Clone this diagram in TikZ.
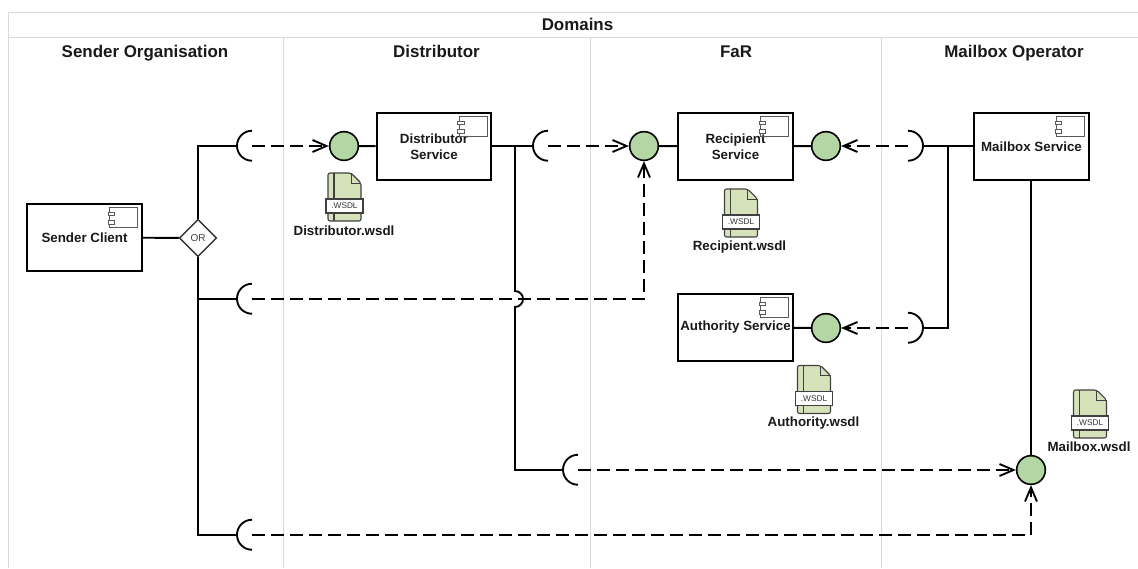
\documentclass[tikz,border=0pt]{standalone}
\usepackage{fontspec}
\setmainfont{Liberation Sans}
\usetikzlibrary{shapes.geometric,arrows.meta}
\definecolor{ifgreen}{HTML}{B4D6A4}
\definecolor{docgreen}{HTML}{D6E2BA}
\definecolor{lanegray}{HTML}{D9D9D9}
\begin{document}
\begin{tikzpicture}[x=0.75pt, y=-0.75pt, >={Straight Barb[length=10.5pt,width=9pt]},
    lane/.style={draw=lanegray, line width=0.9pt},
    heading/.style={anchor=base, text=black!90, font=\bfseries\fontsize{12.7}{14}\selectfont},
    comp/.style={draw, line width=1.5pt, minimum width=86pt, minimum height=50pt, inner sep=0pt, align=center, text=black!90, font=\bfseries\fontsize{10}{12}\selectfont},
    iface/.style={draw, circle, line width=1.2pt, fill=ifgreen, minimum size=21.5pt, inner sep=0pt},
    socket/.style={circle, minimum size=22.5pt, inner sep=0pt},
    orgate/.style={draw=black!80, line width=1pt, diamond, aspect=1, minimum size=28pt, inner sep=0pt, font=\fontsize{7.5}{8}\selectfont, text=black!75},
    wsdl/.style={anchor=base, text=black!90, font=\bfseries\fontsize{10}{10}\selectfont},
    wire/.style={line width=1.4pt},
    dep/.style={line width=1.4pt, dash pattern=on 10pt off 4.25pt, ->},
    compicon/.pic={
        \draw[black!65, line width=0.7pt] (-28,0) rectangle (0,20);
        \draw[black!65, line width=0.7pt, fill=white] (-29.5,5) rectangle (-23,8.5);
        \draw[black!65, line width=0.7pt, fill=white] (-29.5,13.5) rectangle (-23,17);
    },
    docicon/.pic={
        \draw[black!75, line width=0.8pt, fill=docgreen, rounded corners=1.5pt] (-16.5,-24) -- (6.5,-24) -- (16.5,-14) -- (16.5,24) -- (-16.5,24) -- cycle;
        \draw[black!75, line width=0.7pt] (6.5,-24) -- (6.5,-14) -- (16.5,-14);
        \draw[black!75, line width=0.8pt] (-10.5,-24) -- (-10.5,24);
        \draw[black!75, line width=0.8pt, fill=white] (-18.5,2) rectangle (18.5,16);
        \node[font=\fontsize{6.2}{6}\selectfont, text=black!80] at (0,9) {.WSDL};
    }]
    \useasboundingbox (0,0) rectangle (1138,568);

    % swimlanes
    \draw[lane] (1138,12.5) -- (8.5,12.5) -- (8.5,568);
    \draw[lane] (8.5,37.5) -- (1138,37.5);
    \draw[lane] (283.5,37.5) -- (283.5,568);
    \draw[lane] (590.5,37.5) -- (590.5,568);
    \draw[lane] (881.5,37.5) -- (881.5,568);
    \node[heading] (domains) at (577.5,30) {Domains};
    \node[heading] (sender) at (145,57) {Sender Organisation};
    \node[heading] (distributor) at (436.5,57) {Distributor};
    \node[heading] (far) at (736,57) {FaR};
    \node[heading] (mailboxop) at (1014,57) {Mailbox Operator};

    % components
    \node[comp] (client) at (84.5,237.5) {Sender Client};
    \node[comp] (distsvc) at (434,146.5) {Distributor\\Service};
    \node[comp] (recsvc) at (735.5,146.5) {Recipient\\Service};
    \node[comp] (authsvc) at (735.5,327.5) {Authority Service};
    \node[comp] (mailsvc) at (1031.5,146.5) {Mailbox Service};
    \pic at ([xshift=-3.75pt,yshift=-3pt]client.north east) {compicon};
    \pic at ([xshift=-3.75pt,yshift=-3pt]distsvc.north east) {compicon};
    \pic at ([xshift=-3.75pt,yshift=-3pt]recsvc.north east) {compicon};
    \pic at ([xshift=-3.75pt,yshift=-3pt]authsvc.north east) {compicon};
    \pic at ([xshift=-3.75pt,yshift=-3pt]mailsvc.north east) {compicon};

    \node[orgate] (or) at (198,238) {OR};

    % provided interfaces
    \node[iface] (ifdist) at (344,146) {};
    \node[iface] (ifrec) at (644,146) {};
    \node[iface] (ifrecout) at (826,146) {};
    \node[iface] (ifauth) at (826,328) {};
    \node[iface] (ifmail) at (1031,470) {};

    % required interfaces
    \node[socket] (sk1) at (252,146) {};
    \node[socket] (sk2) at (252,299) {};
    \node[socket] (sk3) at (252,535) {};
    \node[socket] (sk4) at (548,146) {};
    \node[socket] (sk5) at (578,470) {};
    \node[socket] (sk6) at (908,146) {};
    \node[socket] (sk7) at (908,328) {};
    \foreach \s in {sk1,sk2,sk3,sk4,sk5}
        \draw[wire] (\s.north) arc[start angle=90, end angle=270, radius=11.25pt];
    \foreach \s in {sk6,sk7}
        \draw[wire] (\s.north) arc[start angle=90, end angle=-90, radius=11.25pt];

    % wires
    \coordinate (orbranch) at (198,299);
    \coordinate (distbranch) at (515,146);
    \coordinate (jumptop) at (515,291);
    \coordinate (jumpbot) at (515,307);
    \coordinate (mailbranch) at (948,146);
    \draw[wire] (client) -- (or);
    \draw[wire] (or.north) |- (sk1.west);
    \draw[wire] (or.south) |- (sk3.west);
    \draw[wire] (orbranch) -- (sk2.west);
    \draw[wire] (ifdist) -- (distsvc);
    \draw[wire] (distsvc.east |- sk4) -- (sk4.west);
    \draw[wire] (distbranch) -- (jumptop) arc[start angle=90, end angle=-90, radius=6pt] -- (jumpbot |- sk5.west) -- (sk5.west);
    \draw[wire] (ifrec) -- (recsvc);
    \draw[wire] (recsvc) -- (ifrecout);
    \draw[wire] (authsvc) -- (ifauth);
    \draw[wire] (mailsvc.west |- sk6) -- (sk6.east);
    \draw[wire] (mailbranch) |- (sk7.east);
    \draw[wire] (ifmail |- mailsvc.south) -- (ifmail);

    % dependencies
    \draw[dep] (sk1.center) -- (ifdist);
    \draw[dep] (sk4.center) -- (ifrec);
    \draw[dep] (sk2.center) -| (ifrec);
    \draw[dep] (sk6.center) -- (ifrecout);
    \draw[dep] (sk7.center) -- (ifauth);
    \draw[dep] (sk5.center) -- (ifmail);
    \draw[dep] (sk3.center) -| (ifmail);

    % wsdl files
    \pic at (344.5,197) {docicon};
    \pic at (741,213) {docicon};
    \pic at (814,389.5) {docicon};
    \pic at (1090,414) {docicon};
    \node[wsdl] (distwsdl) at (344,235) {Distributor.wsdl};
    \node[wsdl] (recwsdl) at (739.5,250) {Recipient.wsdl};
    \node[wsdl] (authwsdl) at (813.5,426.5) {Authority.wsdl};
    \node[wsdl] (mailwsdl) at (1089,451) {Mailbox.wsdl};
\end{tikzpicture}
\end{document}
